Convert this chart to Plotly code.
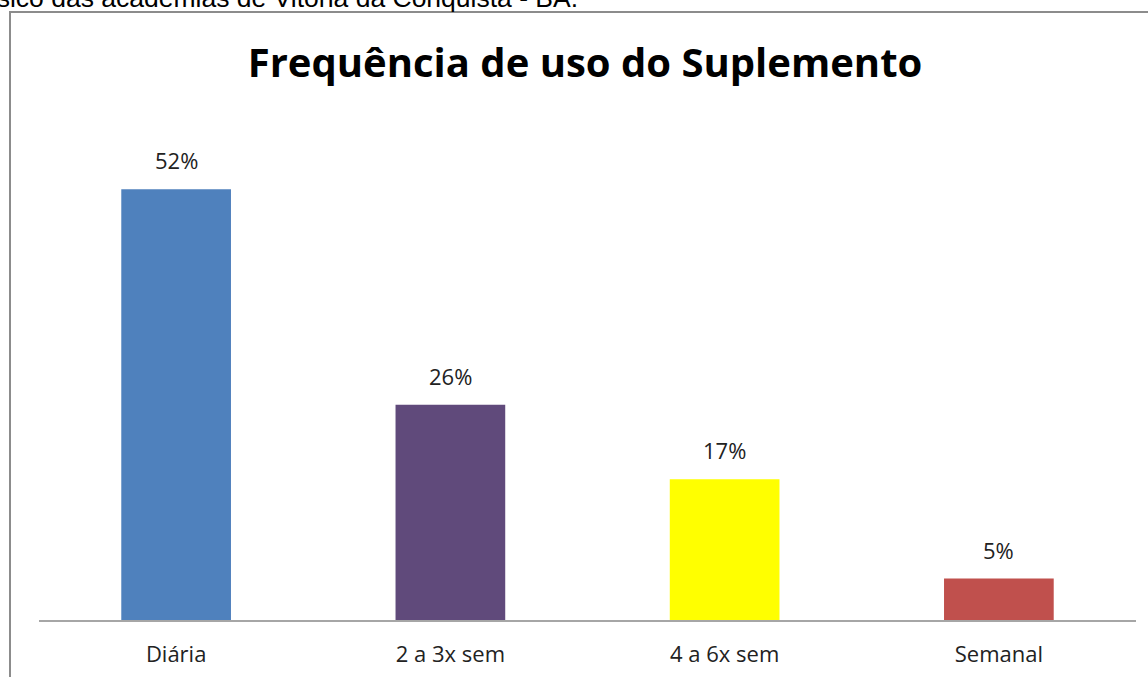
import plotly.graph_objects as go

categorias = ['Diária', '2 a 3x sem', '4 a 6x sem', 'Semanal']
percentuais = [52, 26, 17, 5]
cores = ['#4F81BD', '#604A7B', '#FFFF00', '#C0504D']

titulo = 'Frequência de uso do Suplemento'
texto_topo = 'físico das academias de Vitória da Conquista - BA.'

fig = go.Figure()

fig.add_trace(go.Bar(
    x=categorias,
    y=percentuais,
    marker=dict(color=cores, line=dict(width=0)),
    width=0.4,
    hoverinfo='skip'
))

# rótulos de dados acima das barras
for cat, val in zip(categorias, percentuais):
    fig.add_annotation(
        x=cat, y=val, text=f'{val}%',
        showarrow=False, yanchor='bottom', yshift=12,
        font=dict(family='Open Sans', size=22, color='#222222')
    )

# texto cortado no topo da página
fig.add_annotation(
    xref='paper', yref='paper', x=(580 - 39) / 1097, y=(620 - 15) / 497,
    xanchor='right', yanchor='bottom',
    text=texto_topo, showarrow=False,
    font=dict(family='Liberation Sans', size=26.5, color='#000000')
)

# borda do gráfico
fig.add_shape(
    type='rect', xref='paper', yref='paper',
    x0=(10 - 39) / 1097, x1=(1160 - 39) / 1097,
    y0=(620 - 690) / 497, y1=(620 - 12) / 497,
    line=dict(color='#8c8c8c', width=2), layer='below'
)

fig.update_layout(
    width=1148, height=677,
    margin=dict(l=39, r=12, t=123, b=57),
    plot_bgcolor='white',
    paper_bgcolor='white',
    showlegend=False,
    title=dict(
        text=titulo, x=585 / 1148, xanchor='center', y=1 - 63 / 677, yanchor='middle',
        font=dict(family='Open Sans', size=40, color='#000000', weight='bold')
    ),
    bargap=0.6,
    xaxis=dict(
        showline=True, linecolor='#a6a6a6', linewidth=1.5,
        ticks='', ticklabelstandoff=14, automargin=False,
        tickfont=dict(family='Open Sans', size=22, color='#222222'),
        showgrid=False
    ),
    yaxis=dict(
        range=[0, 60], visible=False, showgrid=False, zeroline=False,
        automargin=False
    )
)

fig.write_html('out.html', config={'displayModeBar': False},
               post_script="document.body.style.margin='0';")
